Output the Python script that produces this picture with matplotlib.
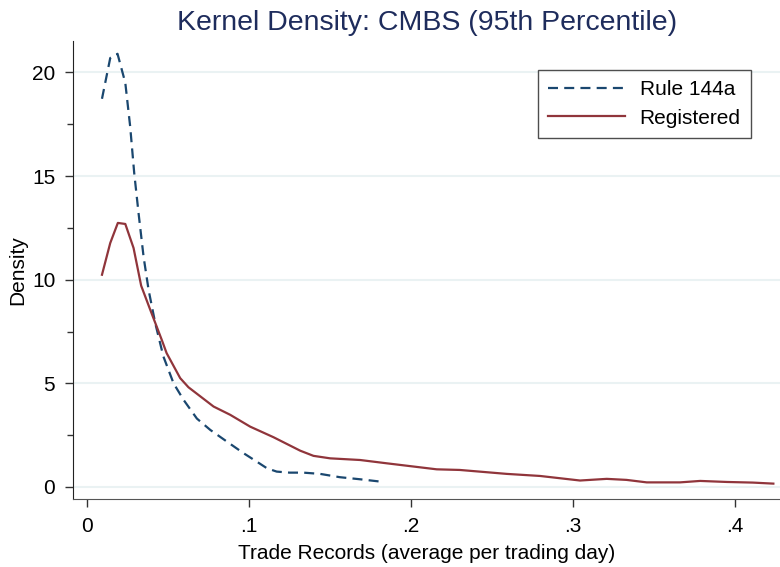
import matplotlib
matplotlib.use('Agg')
import matplotlib.pyplot as plt
from matplotlib.ticker import FixedLocator

plt.rcParams['font.family'] = ['Liberation Sans', 'DejaVu Sans']

# Rule 144a kernel density
rule_x = [0.0091, 0.0142, 0.0187, 0.0235, 0.0265, 0.029, 0.0317, 0.0348,
          0.0379, 0.042, 0.047, 0.0533, 0.0595, 0.0677, 0.076, 0.0862,
          0.0965, 0.1047, 0.111, 0.117, 0.125, 0.1335, 0.1438, 0.156,
          0.1685, 0.183]
rule_y = [18.73, 20.7, 20.9, 19.5, 17.4, 15.15, 13.2, 11.1,
          9.5, 7.9, 6.3, 5.0, 4.2, 3.3, 2.75, 2.19,
          1.63, 1.22, 0.9, 0.74, 0.69, 0.69, 0.63, 0.47,
          0.37, 0.24]

# Registered kernel density
reg_x = [0.0091, 0.0142, 0.0189, 0.0235, 0.0286, 0.0333, 0.0389, 0.046,
         0.049, 0.0574, 0.0625, 0.078, 0.0883, 0.1006, 0.115, 0.1315,
         0.1397, 0.15, 0.1685, 0.185, 0.2158, 0.23, 0.259, 0.2796,
         0.3043, 0.3208, 0.333, 0.3455, 0.366, 0.3785, 0.395, 0.411,
         0.4237]
reg_y = [10.24, 11.77, 12.74, 12.69, 11.53, 9.71, 8.55, 7.1,
         6.46, 5.25, 4.81, 3.88, 3.48, 2.91, 2.40, 1.75,
         1.50, 1.38, 1.30, 1.14, 0.85, 0.82, 0.63, 0.53,
         0.31, 0.39, 0.34, 0.22, 0.22, 0.29, 0.24, 0.21,
         0.16]

x_ticks = [0, 0.1, 0.2, 0.3, 0.4]
x_labels = ['0', '.1', '.2', '.3', '.4']
y_ticks = [0, 5, 10, 15, 20]

NAVY = '#1a476f'
MAROON = '#90353b'

fig = plt.figure(figsize=(7.8, 5.67), dpi=100)
ax = fig.add_axes([0.094, 0.12, 0.906, 0.807])

for y in y_ticks:
    ax.axhline(y, color='#eaf2f3', lw=1.5, zorder=0)

ax.plot(rule_x, rule_y, color=NAVY, lw=1.6, linestyle=(0, (4.5, 2.8)),
        label='Rule 144a')
ax.plot(reg_x, reg_y, color=MAROON, lw=1.6, label='Registered')

ax.set_xlim(-0.0086, 0.4278)
ax.set_ylim(-0.58, 21.5)

ax.set_xticks(x_ticks)
ax.set_xticklabels(x_labels)
ax.set_yticks(y_ticks)
ax.yaxis.set_minor_locator(FixedLocator([2.5, 7.5, 12.5, 17.5]))
ax.tick_params(axis='both', which='major', labelsize=15, length=6,
               width=1, color='#333333', pad=7)
ax.tick_params(axis='y', which='minor', length=4, width=1, color='#333333')

for side in ('top', 'right'):
    ax.spines[side].set_visible(False)
ax.spines['left'].set_color('#222222')
ax.spines['bottom'].set_color('#555555')

ax.set_xlabel('Trade Records (average per trading day)', fontsize=15,
              labelpad=6)
ax.set_ylabel('Density', fontsize=15, labelpad=3)
ax.set_title('Kernel Density: CMBS (95th Percentile)', fontsize=20.5,
             color='#1e2c5c', pad=8)

leg = ax.legend(loc='upper right', bbox_to_anchor=(0.959, 0.9375),
                fontsize=15, frameon=True, fancybox=False,
                handlelength=3.7, handletextpad=0.7, borderpad=0.5,
                labelspacing=0.45, borderaxespad=0)
leg.get_frame().set_edgecolor('#222222')
leg.get_frame().set_linewidth(1)

fig.savefig('out.png', dpi=100)
